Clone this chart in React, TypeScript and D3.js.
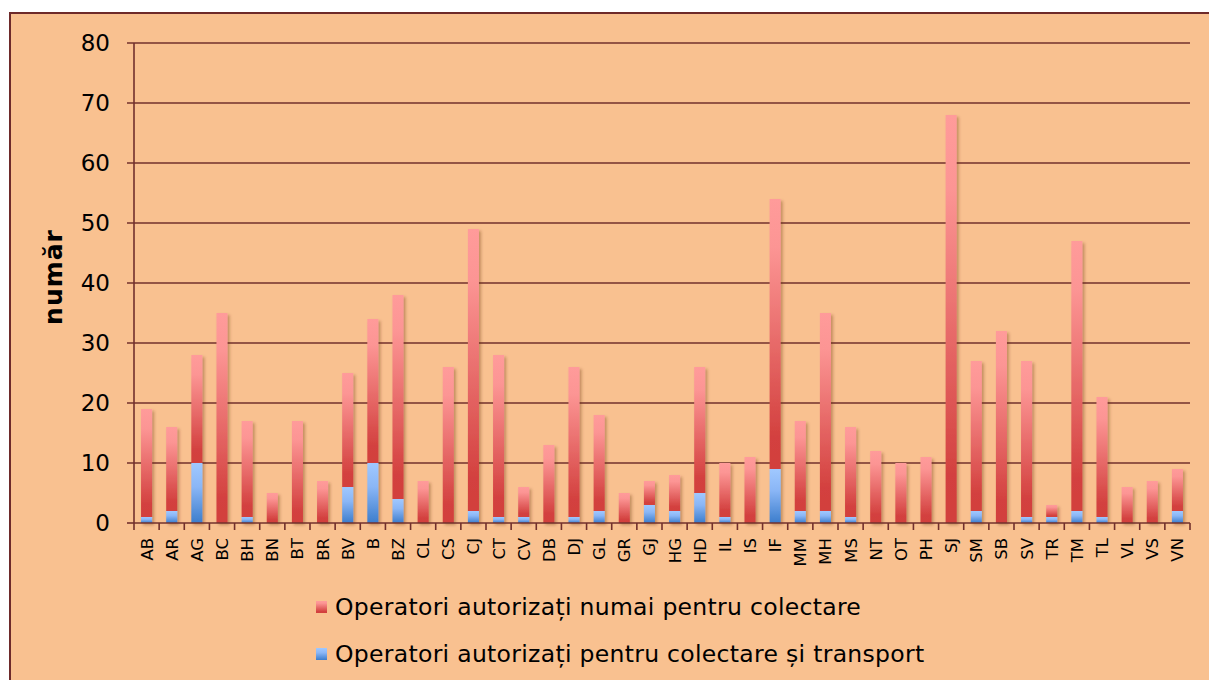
import React from 'react';
import * as d3 from 'd3';

const counties = ['AB', 'AR', 'AG', 'BC', 'BH', 'BN', 'BT', 'BR', 'BV', 'B', 'BZ', 'CL', 'CS', 'CJ', 'CT', 'CV', 'DB', 'DJ', 'GL', 'GR', 'GJ', 'HG', 'HD', 'IL', 'IS', 'IF', 'MM', 'MH', 'MS', 'NT', 'OT', 'PH', 'SJ', 'SM', 'SB', 'SV', 'TR', 'TM', 'TL', 'VL', 'VS', 'VN'];
// operatori autorizati pentru colectare si transport (albastru)
const collectTransport = [1, 2, 10, 0, 1, 0, 0, 0, 6, 10, 4, 0, 0, 2, 1, 1, 0, 1, 2, 0, 3, 2, 5, 1, 0, 9, 2, 2, 1, 0, 0, 0, 0, 2, 0, 1, 1, 2, 1, 0, 0, 2];
// operatori autorizati numai pentru colectare (rosu)
const collectOnly = [18, 14, 18, 35, 16, 5, 17, 7, 19, 24, 34, 7, 26, 47, 27, 5, 13, 25, 16, 5, 4, 6, 21, 9, 11, 45, 15, 33, 15, 12, 10, 11, 68, 25, 32, 26, 2, 45, 20, 6, 7, 7];
const yTicks = [0, 10, 20, 30, 40, 50, 60, 70, 80];
const legendLabels = ['Operatori autorizați numai pentru colectare', 'Operatori autorizați pentru colectare și transport'];

const W = 1209, H = 680;
const left = 134, right = 1190, top = 43, bottom = 523;
const lineColor = '#72302c';
const font = '"DejaVu Sans", Verdana, sans-serif';

export default function App() {
  const x = d3.scaleBand<string>().domain(counties).range([left, right]).paddingInner(0.56).paddingOuter(0.28);
  const y = d3.scaleLinear().domain([0, 80]).range([bottom, top]);

  const rows = counties.map((c, i) => ({ c, transport: collectTransport[i], only: collectOnly[i] }));
  const stacked = d3.stack<any>().keys(['transport', 'only'])(rows);
  const fills = ['url(#blueGrad)', 'url(#redGrad)'];
  const step = x.step();

  return (
    <svg width={W} height={H} style={{ position: 'absolute', left: 0, top: 0, background: '#fff' }}>
      <defs>
        <linearGradient id="redGrad" x1="0" y1="0" x2="0" y2="1">
          <stop offset="0" stopColor="#ff9b9a" />
          <stop offset="0.18" stopColor="#fc9594" />
          <stop offset="0.88" stopColor="#d3413f" />
          <stop offset="1" stopColor="#d23f3d" />
        </linearGradient>
        <linearGradient id="blueGrad" x1="0" y1="0" x2="0" y2="1">
          <stop offset="0" stopColor="#a0c8ff" />
          <stop offset="0.4" stopColor="#8ab6f6" />
          <stop offset="1" stopColor="#3c7dcc" />
        </linearGradient>
        <filter id="shadow" x="-50%" y="-10%" width="200%" height="120%">
          <feDropShadow dx="2" dy="2" stdDeviation="1.8" floodColor="#5a2a10" floodOpacity="0.35" />
        </filter>
      </defs>

      <rect x={10} y={13} width={W} height={H} fill="#f9c190" stroke="#6e2a2a" strokeWidth={2} />

      {/* gridlines + y axis */}
      {yTicks.map(t => (
        <g key={t}>
          <line x1={left - 7} x2={t === 0 ? left : right} y1={y(t)} y2={y(t)} stroke={lineColor} strokeWidth={1.6} />
          <text x={110} y={y(t)} dy="0.36em" textAnchor="end" fontFamily={font} fontSize={23} fill="#000">{t}</text>
        </g>
      ))}

      {/* bars */}
      <g filter="url(#shadow)">
        {stacked.map((s, si) =>
          s.map((d, i) => d[1] > d[0] ? (
            <rect key={si + '-' + i} x={x(counties[i])} width={x.bandwidth()} y={y(d[1])} height={y(d[0]) - y(d[1])} fill={fills[si]} />
          ) : null)
        )}
      </g>

      {/* x axis */}
      <line x1={left} x2={right} y1={bottom} y2={bottom} stroke={lineColor} strokeWidth={1.6} />
      <line x1={left} x2={left} y1={top} y2={bottom} stroke={lineColor} strokeWidth={1.6} />
      {d3.range(counties.length + 1).map(i => (
        <line key={i} x1={left + i * step} x2={left + i * step} y1={bottom} y2={bottom + 7} stroke={lineColor} strokeWidth={1.6} />
      ))}
      {counties.map(c => {
        const cx = (x(c) as number) + x.bandwidth() / 2;
        return (
          <text key={c} transform={`translate(${cx},538) rotate(-90)`} dy="0.36em" textAnchor="end" fontFamily={font} fontSize={16.5} fill="#000">{c}</text>
        );
      })}

      {/* y title */}
      <text transform="translate(53,277) rotate(-90)" dy="0.36em" textAnchor="middle" fontFamily={font} fontWeight="bold" fontSize={25} letterSpacing={1} fill="#000">număr</text>

      {/* legend */}
      {legendLabels.map((l, i) => (
        <g key={l} transform={`translate(316,${607 + i * 47})`}>
          <rect x={0} y={-6} width={11} height={12} fill={i === 0 ? 'url(#redGrad)' : 'url(#blueGrad)'} />
          <text x={19} y={0} dy="0.36em" fontFamily={font} fontSize={23.5} letterSpacing={0.3} fill="#000">{l}</text>
        </g>
      ))}
    </svg>
  );
}
